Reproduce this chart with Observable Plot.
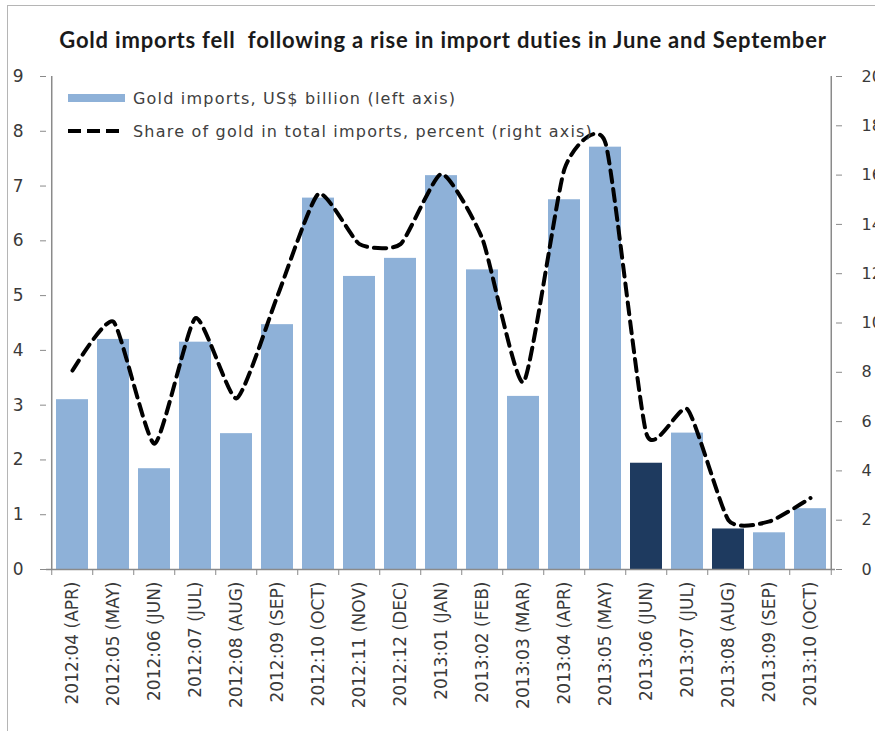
<!DOCTYPE html>
<html>
<head>
<meta charset="utf-8">
<script src="https://cdn.jsdelivr.net/npm/d3@7"></script>
<script src="https://cdn.jsdelivr.net/npm/@observablehq/plot@0.6"></script>
<style>
  body { margin: 0; background: #fff; }
  #wrap { position: relative; width: 875px; height: 738px; overflow: hidden; background: #fff; }
  #frame { position: absolute; left: 7px; top: 5px; width: 900px; height: 725px; border-left: 1px solid #b5b5b5; border-top: 1px solid #b5b5b5; }
  #title { position: absolute; left: 0; width: 886px; top: 26px; text-align: center; font-family: Lato, sans-serif; font-weight: bold; font-size: 22px; letter-spacing: 0.8px; color: #1a1a1a; white-space: pre; }
  .leg { position: absolute; left: 68px; font-family: "DejaVu Sans", sans-serif; font-size: 16px; letter-spacing: 1.2px; color: #404040; display: flex; align-items: center; white-space: nowrap; }
  .leg svg { margin-right: 8px; }
  #chart { position: absolute; left: 0; top: 0; }
</style>
</head>
<body>
<div id="wrap">
  <div id="chart"></div>
  <div id="frame"></div>
  <div id="title">Gold imports fell  following a rise in import duties in June and September</div>
  <div class="leg" style="top:88px;"><svg width="57" height="20"><rect x="0" y="6" width="57" height="8" fill="#8eb1d8"></rect></svg>Gold imports, US$ billion (left axis)</div>
  <div class="leg" style="top:121px;"><svg width="57" height="20"><line x1="0" y1="10" x2="57" y2="10" stroke="#000" stroke-width="4" stroke-dasharray="13,6"></line></svg>Share of gold in total imports, percent (right axis)</div>
</div>
<script>
// ---- data ----
const months = [
  "2012:04 (APR)", "2012:05 (MAY)", "2012:06 (JUN)", "2012:07 (JUL)", "2012:08 (AUG)",
  "2012:09 (SEP)", "2012:10 (OCT)", "2012:11 (NOV)", "2012:12 (DEC)", "2013:01 (JAN)",
  "2013:02 (FEB)", "2013:03 (MAR)", "2013:04 (APR)", "2013:05 (MAY)", "2013:06 (JUN)",
  "2013:07 (JUL)", "2013:08 (AUG)", "2013:09 (SEP)", "2013:10 (OCT)"
];
const goldImports = [3.10, 4.20, 1.84, 4.15, 2.48, 4.47, 6.78, 5.35, 5.68, 7.19, 5.47, 3.16, 6.75, 7.71, 1.94, 2.49, 0.74, 0.67, 1.11];
const goldShare = [8.07, 10.05, 5.1, 10.2, 6.94, 11.1, 15.24, 13.2, 13.2, 16.05, 13.4, 7.6, 16.25, 17.3, 5.5, 6.5, 2.0, 1.95, 2.9];
const dutyHikeMonths = ["2013:06 (JUN)", "2013:08 (AUG)"];
const leftTicks = [0, 1, 2, 3, 4, 5, 6, 7, 8, 9];
const rightTicks = [0, 2, 4, 6, 8, 10, 12, 14, 16, 18, 20];

// ---- layout ----
const W = 875, H = 738;
const mL = 46, mR = 40, mT = 76, mB = 169;
const step = (W - mL - mR) / months.length;
const leftMax = 9, rightMax = 20;
const k = leftMax / rightMax; // right-axis values mapped onto the left scale
const light = "#8eb1d8", dark = "#1e3a5f", axisGray = "#8a8a8a", textGray = "#3a3a3a";

const data = months.map((m, i) => ({month: m, imports: goldImports[i], share: goldShare[i], hike: dutyHikeMonths.includes(m)}));

const chart = Plot.plot({
  width: W, height: H,
  marginLeft: mL, marginRight: mR, marginTop: mT, marginBottom: mB,
  style: {fontFamily: "'DejaVu Sans', sans-serif", fontSize: "14px", color: textGray, background: "transparent"},
  x: {domain: months, paddingInner: 0.22, paddingOuter: 0.11, align: 0.5},
  y: {domain: [0, leftMax]},
  marks: [
    Plot.barY(data, {filter: d => !d.hike, x: "month", y: "imports", fill: light}),
    Plot.barY(data, {filter: d => d.hike, x: "month", y: "imports", fill: dark}),
    Plot.line(data, {x: "month", y: d => d.share * k, stroke: "#000", strokeWidth: 4, strokeDasharray: "12,7", curve: "cardinal", tension: 0.45}),
    // axis lines
    Plot.ruleY([0], {stroke: axisGray, strokeWidth: 1.5}),
    Plot.ruleX([months[0]], {x: d => d, y1: 0, y2: leftMax, dx: -step / 2, stroke: axisGray, strokeWidth: 1.5}),
    Plot.ruleX([months[months.length - 1]], {x: d => d, y1: 0, y2: leftMax, dx: step / 2, stroke: axisGray, strokeWidth: 1.5}),
    // left axis
    Plot.axisY(leftTicks, {anchor: "left", label: null, tickSize: 6, tickPadding: 17, stroke: axisGray, fill: textGray, fontSize: 17, tickFormat: d => String(d)}),
    // right axis (percent)
    Plot.axisY(rightTicks.map(v => v * k), {anchor: "right", label: null, tickSize: 6, tickPadding: 20, stroke: axisGray, fill: textGray, fontSize: 16, tickFormat: v => String(Math.round(v / k))}),
    // category boundary ticks
    Plot.axisX(months, {anchor: "bottom", label: null, tickSize: 6, dx: -step / 2, stroke: axisGray, tickFormat: () => ""}),
    Plot.axisX([months[months.length - 1]], {anchor: "bottom", label: null, tickSize: 6, dx: step / 2, stroke: axisGray, tickFormat: () => ""}),
    // category labels
    Plot.axisX(months, {anchor: "bottom", label: null, tickSize: 0, tickPadding: 12, tickRotate: -90, fill: textGray, fontSize: 17})
  ]
});
document.getElementById("chart").appendChild(chart);
</script>
</body>
</html>
